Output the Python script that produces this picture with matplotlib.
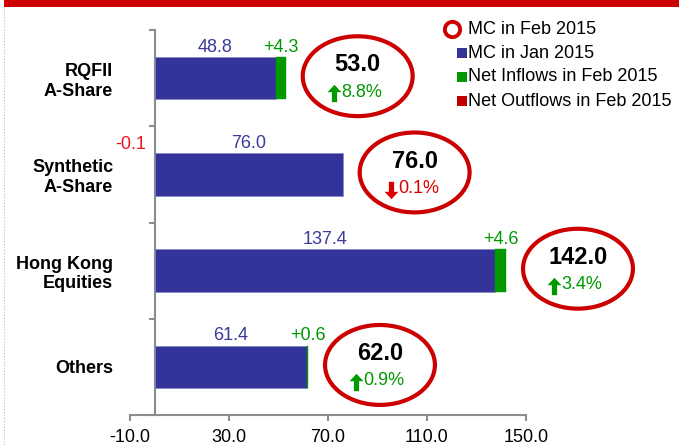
import matplotlib.pyplot as plt
from matplotlib.patches import Ellipse
from matplotlib.lines import Line2D
from matplotlib.path import Path
from matplotlib.transforms import offset_copy

plt.rcParams['font.family'] = ['Liberation Sans', 'DejaVu Sans']

# data
categories = ["RQFII\nA-Share", "Synthetic\nA-Share", "Hong Kong\nEquities", "Others"]
mc_jan = [48.8, 76.0, 137.4, 61.4]
net_flow = [4.3, -0.1, 4.6, 0.6]
mc_feb = [53.0, 76.0, 142.0, 62.0]
pct_change = [8.8, -0.1, 3.4, 0.9]
legend_labels = ["MC in Feb 2015", "MC in Jan 2015",
                 "Net Inflows in Feb 2015", "Net Outflows in Feb 2015"]

BLUE = '#333399'
GREEN = '#009900'
RED = '#cc0000'
OUT_RED = '#c00000'
GRAY = '#8c8c8c'

# thick arrow shapes for the change markers
up_arrow = Path([(0, 1), (0.8, 0.15), (0.3, 0.15), (0.3, -1), (-0.3, -1),
                 (-0.3, 0.15), (-0.8, 0.15), (0, 1)])
down_arrow = Path([(x, -y) for x, y in up_arrow.vertices])

W, H = 679, 445
fig = plt.figure(figsize=(W / 100, H / 100), dpi=100)
ax = fig.add_axes([130 / W, 30 / H, 396 / W, 385 / H])
ax.spines['left'].set_position(('data', 0))

ypos = list(range(len(categories)))
bar_h = 0.44

# bars
ax.barh(ypos, mc_jan, height=bar_h, color=BLUE, edgecolor='#8888c8', linewidth=0.5, zorder=3)
for y, jan, flow in zip(ypos, mc_jan, net_flow):
    if flow >= 0:
        ax.barh(y, flow, left=jan, height=bar_h, color=GREEN, edgecolor=GREEN, linewidth=0.3, zorder=3)
    else:
        ax.barh(y, flow, left=0, height=bar_h, color=OUT_RED, linewidth=0, zorder=3)

# value labels above the bars
for y, jan, flow in zip(ypos, mc_jan, net_flow):
    top = y - bar_h / 2
    ax.annotate(f"{jan:.1f}", (jan / 2, top), xytext=(0, 1), textcoords='offset points',
                ha='center', va='bottom', fontsize=13, color='#3a3a9c')
    if flow >= 0:
        ax.annotate(f"+{flow:.1f}", (jan + flow / 2, top), xytext=(0, 1), textcoords='offset points',
                    ha='center', va='bottom', fontsize=13, color=GREEN)
    else:
        ax.annotate(f"{flow:.1f}", (0, top), xytext=(-6, 0), textcoords='offset points',
                    ha='right', va='bottom', fontsize=13, color='#e8141c', annotation_clip=False)

# ellipses with Feb market cap and change
for y, feb, pct in zip(ypos, mc_feb, pct_change):
    cx = feb + 29
    ax.add_patch(Ellipse((cx, y - 0.02), 44.4, 0.83, fill=False, edgecolor=RED,
                         linewidth=3, zorder=4, clip_on=False))
    ax.annotate(f"{feb:.1f}", (cx, y), xytext=(0, 9.5), textcoords='offset points',
                ha='center', va='center', fontsize=17, fontweight='bold', color='black',
                annotation_clip=False)
    col = GREEN if pct >= 0 else '#dd0000'
    arrow = up_arrow if pct >= 0 else down_arrow
    ax.annotate(f"{abs(pct):.1f}%", (cx, y), xytext=(-12, -10), textcoords='offset points',
                ha='left', va='center', fontsize=13, color=col, annotation_clip=False)
    tr = offset_copy(ax.transData, fig=fig, x=-17, y=-11, units='points')
    ax.plot([cx], [y], marker=arrow, markersize=12.5, color=col, markeredgewidth=0,
            linestyle='none', transform=tr, clip_on=False, zorder=5)

# axes styling
ax.set_xlim(-10, 150)
ax.set_ylim(len(categories) - 0.5, -0.5)
ax.set_xticks([-10, 30, 70, 110, 150])
ax.set_xticklabels([f"{v:.1f}" for v in [-10, 30, 70, 110, 150]], fontsize=13)
ax.set_yticks([-0.5, 0.5, 1.5, 2.5, 3.5])
ax.set_yticklabels([])
ax.set_yticks(ypos, minor=True)
ax.set_yticklabels(categories, minor=True, fontsize=13, fontweight='bold')
ax.tick_params(axis='y', which='minor', length=0, pad=30)
ax.tick_params(axis='y', which='major', length=4, width=1.5, color=GRAY, direction='out')
ax.tick_params(axis='x', length=4, width=1.5, color=GRAY, direction='out', pad=6)
for s in ['left', 'bottom']:
    ax.spines[s].set_color(GRAY)
    ax.spines[s].set_linewidth(1.5)
for s in ['top', 'right']:
    ax.spines[s].set_visible(False)

# legend drawn by hand
rows_y = [29, 53, 77, 101]
handles = [('o', 'none', RED), ('s', BLUE, BLUE), ('s', GREEN, GREEN), ('s', OUT_RED, OUT_RED)]
for (mk, fc, ec), label, ry in zip(handles, legend_labels, rows_y):
    yy = 1 - ry / H
    if mk == 'o':
        fig.add_artist(Line2D([452 / W], [yy], marker='o', markersize=11, markerfacecolor='none',
                              markeredgecolor=ec, markeredgewidth=2.8, linestyle='none'))
    else:
        fig.add_artist(Line2D([462 / W], [yy], marker='s', markersize=7.3, markerfacecolor=fc,
                              markeredgecolor=ec, markeredgewidth=0, linestyle='none'))
    fig.text(468 / W, yy, label, ha='left', va='center', fontsize=13, color='black')

# top red band and left dotted border
fig.add_artist(plt.Rectangle((4 / W, 1 - 7 / H), 1, 7 / H, color=RED, transform=fig.transFigure, lw=0))
fig.add_artist(Line2D([4 / W, 4 / W], [0, 1 - 7 / H], color='#bbbbbb', linewidth=0.8, linestyle=':'))

fig.savefig('out.png', dpi=100)
